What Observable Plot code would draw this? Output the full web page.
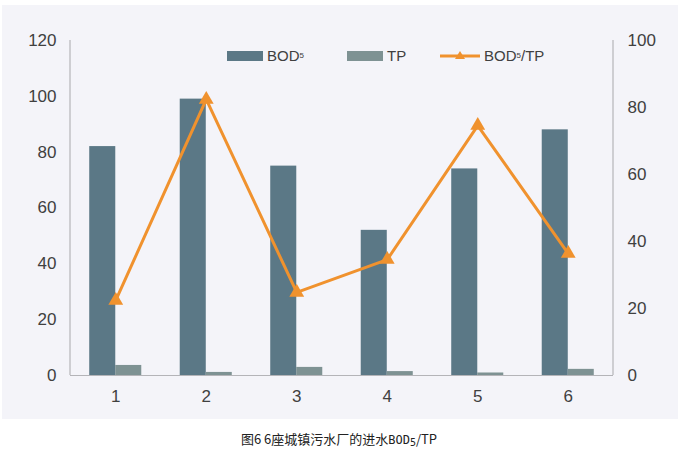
<!DOCTYPE html>
<html><head><meta charset="utf-8">
<script src="https://cdn.jsdelivr.net/npm/d3@7"></script>
<script src="https://cdn.jsdelivr.net/npm/@observablehq/plot@0.6"></script>
<style>
body{margin:0;background:#fff;font-family:"Liberation Sans",Arial,sans-serif;}
#wrap{position:relative;width:676px;height:414px;margin:5px 0 0 2px;background:#f4f4f9;}
#legend{position:absolute;top:42px;left:0;font-size:15px;color:#404040;}
.item{position:absolute;display:flex;align-items:center;white-space:nowrap;}
.sw{display:inline-block;width:36px;height:10px;margin-right:4px;}
sub{font-size:8px;vertical-align:-3px;}
#cap{width:678px;text-align:center;font-family:"Noto Sans CJK SC",sans-serif;font-size:13px;color:#222;margin-top:10px;}
#cap .m{font-family:"DejaVu Sans Mono",monospace;font-size:12px;}
</style></head><body>
<div id="wrap"><div id="legend">
<div class="item" style="left:225px"><span class="sw" style="background:#5b7886"></span>BOD<sub>5</sub></div>
<div class="item" style="left:345px"><span class="sw" style="background:#7e9293"></span>TP</div>
<div class="item" style="left:438px"><svg width="40" height="12" style="margin-right:4px"><line x1="0" y1="6" x2="40" y2="6" stroke="#f0922e" stroke-width="3"/><path d="M20,1 L25,9 L15,9 Z" fill="#f0922e"/></svg>BOD<sub>5</sub>/TP</div>
</div></div>
<div id="cap">图6 6座城镇污水厂的进水<span class="m">BOD<sub style="font-size:10px;vertical-align:-2px">5</sub></span>/TP</div>
<script>
const plants = ["1","2","3","4","5","6"];
const bod5 = [82, 99, 75, 52, 74, 88];
const tp = [3.6, 1.1, 2.9, 1.4, 0.9, 2.2];
const ratio = [22.4, 82.4, 24.8, 34.6, 74.6, 36.4];
const leftTicks = [0, 20, 40, 60, 80, 100, 120];
const rightTicks = [0, 20, 40, 60, 80, 100];

const k = 120 / 100;
const rows = plants.map((p, i) => ({p, bod: bod5[i], tp: tp[i], r: ratio[i] * k}));

const ML = 68, MR = 65, MT = 35, MB = 44, W = 676, H = 414;
const chart = Plot.plot({
  width: W, height: H,
  marginLeft: ML, marginRight: MR, marginTop: MT, marginBottom: MB,
  style: {background: "transparent", fontFamily: "Liberation Sans, Arial, sans-serif", fontSize: "17px", color: "#404040"},
  x: {domain: plants, paddingInner: 0.425, paddingOuter: 0.2125, round: false, label: null},
  y: {domain: [0, 120], label: null},
  marks: [
    Plot.barY(rows, {x: "p", y: "bod", fill: "#5b7886", insetRight: 26}),
    Plot.barY(rows, {x: "p", y: "tp", fill: "#7e9293", insetLeft: 26}),
    Plot.ruleY([0], {stroke: "#b4b4b8", strokeWidth: 1.2}),
    Plot.axisY({ticks: leftTicks, tickSize: 0, tickPadding: 14, label: null, fontSize: 17}),
    Plot.axisY({anchor: "right", ticks: rightTicks.map(v => v * k), tickFormat: d => Math.round(d / k), tickSize: 0, tickPadding: 14, label: null, fontSize: 17}),
    Plot.axisX({tickSize: 0, tickPadding: 14, label: null, fontSize: 17}),
    Plot.line(rows, {x: "p", y: "r", stroke: "#f0922e", strokeWidth: 3}),
    Plot.dot(rows, {x: "p", y: "r", symbol: "triangle", fill: "#f0922e", r: 5.5})
  ]
});
const svg = d3.select(chart);
const L = ML, R = W - MR, T = MT, B = H - MB;
svg.append("line").attr("x1", L).attr("x2", L).attr("y1", T).attr("y2", B).attr("stroke", "#b4b4b8").attr("stroke-width", 1.2);
svg.append("line").attr("x1", R).attr("x2", R).attr("y1", T).attr("y2", B).attr("stroke", "#b4b4b8").attr("stroke-width", 1.2);
document.getElementById("wrap").prepend(chart);
chart.style.position = "absolute"; chart.style.left = "0"; chart.style.top = "0";
</script>
</body></html>
